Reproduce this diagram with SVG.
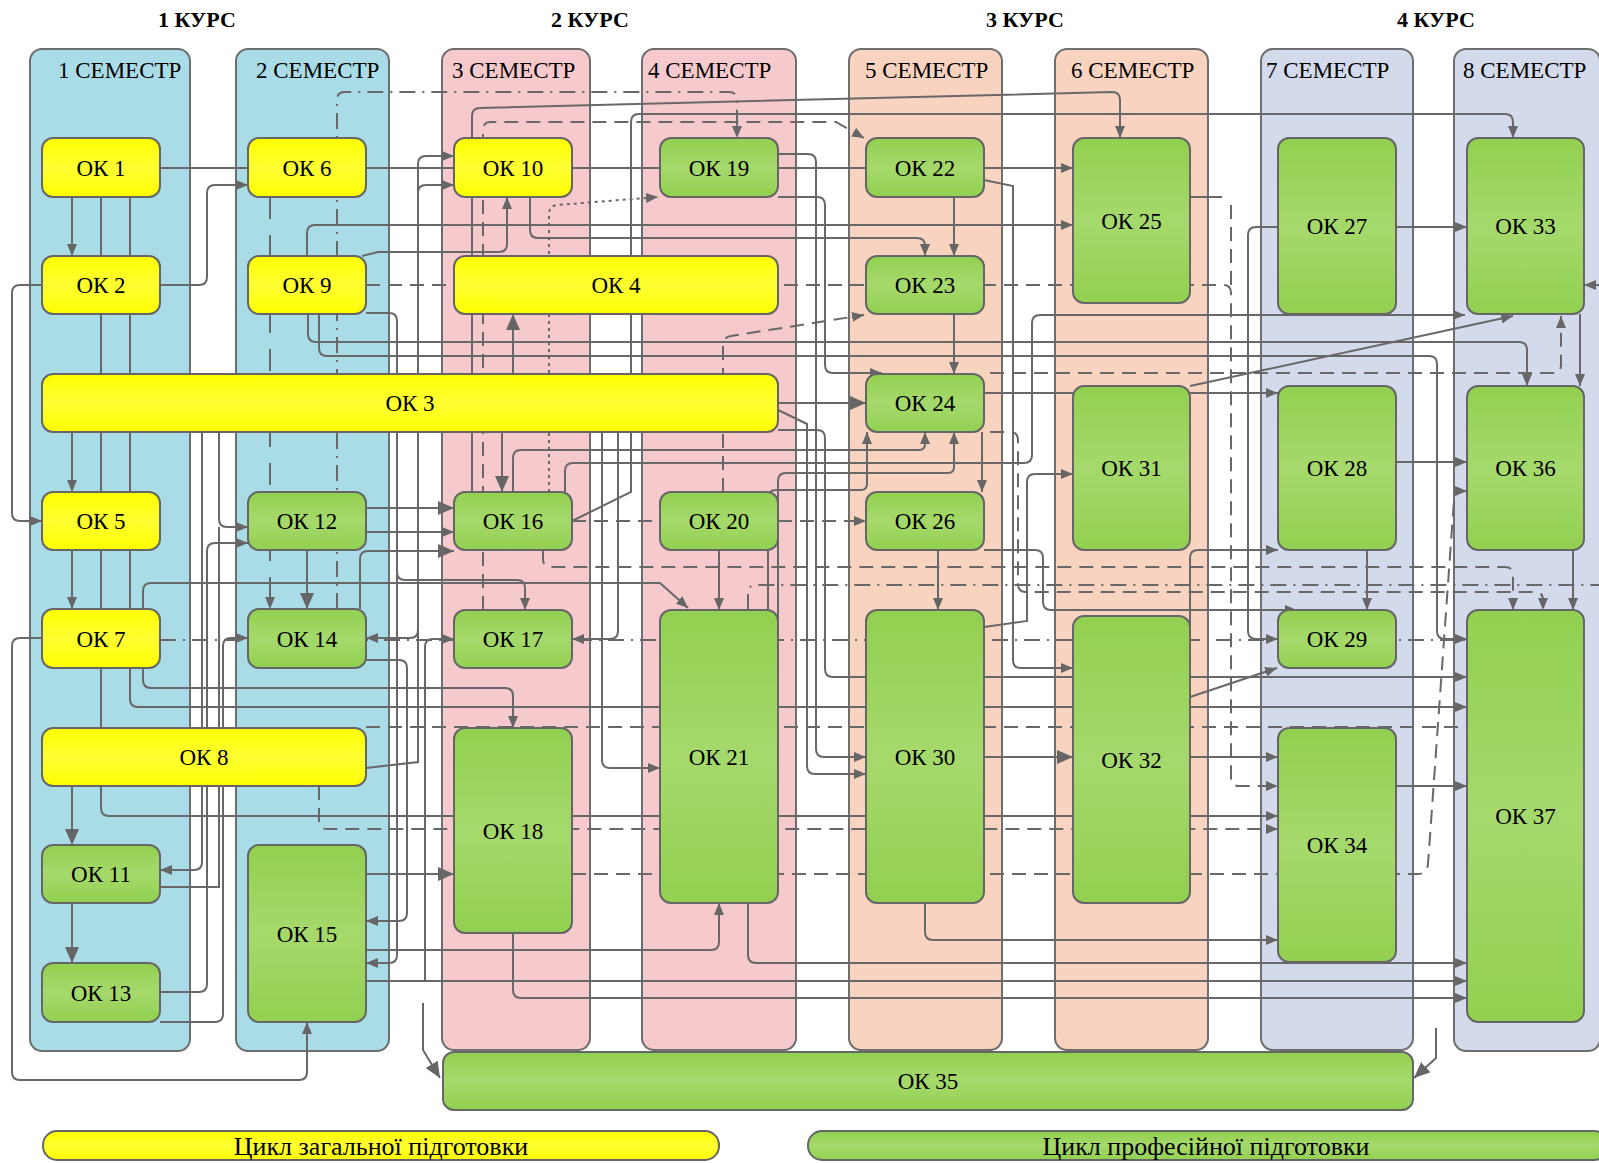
<svg xmlns="http://www.w3.org/2000/svg" width="1599" height="1163" viewBox="0 0 1599 1163">
<defs>
<linearGradient id="gg" x1="0" y1="0" x2="0" y2="1">
<stop offset="0" stop-color="#92D050"/><stop offset="0.5" stop-color="#A6D96C"/><stop offset="1" stop-color="#92D050"/>
</linearGradient>
<linearGradient id="gy" x1="0" y1="0" x2="0" y2="1">
<stop offset="0" stop-color="#FFFF00"/><stop offset="0.5" stop-color="#FFFF33"/><stop offset="1" stop-color="#FFFF00"/>
</linearGradient>
<marker id="a" markerWidth="12" markerHeight="10" refX="12" refY="5" orient="auto" markerUnits="userSpaceOnUse"><path d="M0,0 L12,5 L0,10 z" fill="#666"/></marker>
<marker id="A" markerWidth="16" markerHeight="14" refX="16" refY="7" orient="auto" markerUnits="userSpaceOnUse"><path d="M0,0 L16,7 L0,14 z" fill="#666"/></marker>
<style>
.p{stroke:#6e6e6e;stroke-width:2}
.s1{fill:#AADCE8}.s3{fill:#F6C9CD}.s5{fill:#F8D3C0}.s7{fill:#D3DAEB}
.y{fill:url(#gy);stroke:#666;stroke-width:2}
.g{fill:url(#gg);stroke:#666;stroke-width:2}
text{font-family:"Liberation Serif","DejaVu Serif",serif;fill:#000}
.n{font-size:23px;text-anchor:middle}
.h{font-size:23px}
.k{font-size:22px;font-weight:bold;text-anchor:middle}
.l{font-size:26px;text-anchor:middle}
#connectors path{fill:none;stroke:#686868;stroke-width:2}
#connectors .e{marker-end:url(#a)}
#connectors .E{marker-end:url(#A)}
#connectors .d{stroke-dasharray:14 8}
#connectors .ld{stroke-dasharray:22 16}
#connectors .dd{stroke-dasharray:16 7 2 7}
#connectors .dt{stroke-dasharray:3 4}
</style>
</defs>
<rect width="1599" height="1163" fill="#fff"/>
<g id="headers">
<text class="k" x="197" y="27">1 КУРС</text>
<text class="k" x="590" y="27">2 КУРС</text>
<text class="k" x="1025" y="27">3 КУРС</text>
<text class="k" x="1436" y="27">4 КУРС</text>
</g>
<g id="semesters">
<rect class="p s1" x="30" y="49" width="160" height="1002" rx="12"/>
<rect class="p s1" x="236" y="49" width="153" height="1002" rx="12"/>
<rect class="p s3" x="442" y="49" width="148" height="1001" rx="12"/>
<rect class="p s3" x="642" y="49" width="154" height="1001" rx="12"/>
<rect class="p s5" x="849" y="49" width="153" height="1001" rx="12"/>
<rect class="p s5" x="1055" y="49" width="153" height="1001" rx="12"/>
<rect class="p s7" x="1261" y="49" width="152" height="1001" rx="12"/>
<rect class="p s7" x="1454" y="49" width="146" height="1002" rx="12"/>
<text class="h" x="58" y="78">1 СЕМЕСТР</text>
<text class="h" x="256" y="78">2 СЕМЕСТР</text>
<text class="h" x="452" y="78">3 СЕМЕСТР</text>
<text class="h" x="648" y="78">4 СЕМЕСТР</text>
<text class="h" x="865" y="78">5 СЕМЕСТР</text>
<text class="h" x="1071" y="78">6 СЕМЕСТР</text>
<text class="h" x="1266" y="78">7 СЕМЕСТР</text>
<text class="h" x="1463" y="78">8 СЕМЕСТР</text>
</g>
<g id="connectors">
<path class="e" d="M72,197 V256"/>
<path d="M160,168 H248"/>
<path class="e" d="M160,285 H199 Q207,285 207,277 V193 Q207,185 215,185 H248"/>
<path class="e" d="M42,285 H20 Q12,285 12,293 V513 Q12,521 20,521 H42"/>
<path class="e" d="M101,197 V808 Q101,816 109,816 H1278"/>
<path class="e" d="M130,197 V699 Q130,707 138,707 H1467"/>
<path class="e" d="M72,432 V492"/>
<path class="e" d="M72,550 V609"/>
<path class="E" d="M72,786 V845"/>
<path class="E" d="M72,903 V963"/>
<path class="e" d="M42,638 H20 Q12,638 12,646 V1072 Q12,1080 20,1080 H299 Q307,1080 307,1072 V1022"/>
<path d="M366,168 H454"/>
<path d="M572,168 H660"/>
<path d="M778,168 H866"/>
<path class="e" d="M984,168 H1073"/>
<path class="e" d="M307,256 V233 Q307,225 315,225 H1073"/>
<path class="e" d="M362,256 L378,252 H499 Q507,252 507,244 V197"/>
<path class="e" d="M530,197 V230 Q530,238 538,238 H917 Q925,238 925,246 V256"/>
<path class="e" d="M954,197 V256"/>
<path class="e" d="M954,314 V374"/>
<path class="e" d="M472,492 V116 Q472,108 480,108 L1112,92 Q1120,92 1120,100 V138"/>
<path class="e" d="M572,521 L631,492 V122 Q631,114 639,114 H1505 Q1513,114 1513,122 V138"/>
<path class="e" d="M778,154 H808 Q816,154 816,162 V749 Q816,757 824,757 H866"/>
<path class="e" d="M778,197 H817 Q825,197 825,205 V365 Q825,373 833,373 H882"/>
<path class="E" d="M778,403 H866"/>
<path class="e" d="M778,410 L807,424 V766 Q807,774 815,774 H866"/>
<path class="e" d="M778,430 H817 Q825,430 825,438 V669 Q825,677 833,677 H1467"/>
<path class="E" d="M513,374 V314"/>
<path class="E" d="M502,432 V492"/>
<path class="e" d="M513,492 V458 Q513,450 521,450 H919 Q925,450 925,444 V432"/>
<path class="e" d="M565,492 V471 Q565,463 573,463 H1024 Q1032,463 1032,455 V323 Q1032,315 1040,315 H1465"/>
<path class="e" d="M778,700 V481 Q778,473 786,473 H948 Q954,473 954,467 V432"/>
<path class="e" d="M768,610 V498 Q768,490 776,490 H861 Q867,490 867,484 V432"/>
<path class="e" d="M982,432 V492"/>
<path class="e" d="M938,550 V610"/>
<path class="e" d="M719,550 V610"/>
<path class="e" d="M984,393 H1278"/>
<path class="e" d="M984,180 L1013,186 V660 Q1013,668 1021,668 H1073"/>
<path class="e" d="M984,627 L1027,621 V482 Q1027,474 1035,474 H1073"/>
<path class="e" d="M1190,386 L1513,316"/>
<path class="e" d="M984,550 H1035 Q1043,550 1043,558 V602 Q1043,610 1051,610 H1297"/>
<path class="e" d="M1190,630 V558 Q1190,550 1198,550 H1278"/>
<path class="e" d="M1190,697 L1277,668"/>
<path class="e" d="M1278,227 H1256 Q1248,227 1248,235 V631 Q1248,639 1256,639 H1278"/>
<path class="e" d="M1396,227 H1467"/>
<path class="e" d="M1396,462 H1467"/>
<path class="e" d="M1367,550 V610"/>
<path class="e" d="M1580,314 V386"/>
<path class="e" d="M1573,550 V610"/>
<path class="e" d="M1599,285 H1584"/>
<path class="e" d="M308,314 V334 Q308,342 316,342 H1519 Q1527,342 1527,350 V386"/>
<path class="e" d="M319,314 V348 Q319,356 327,356 H1429 Q1437,356 1437,364 V631 Q1437,639 1445,639 H1467"/>
<path class="e" d="M366,313 H389 Q397,313 397,321 V572 Q397,580 405,580 H517 Q525,580 525,588 V610"/>
<path class="e" d="M143,609 V591 Q143,583 151,583 H660 L688,608"/>
<path class="e" d="M143,668 V680 Q143,688 151,688 H505 Q513,688 513,696 V728"/>
<path class="e" d="M366,768 L418,762 V164 Q418,156 426,156 H454"/>
<path class="e" d="M418,193 Q418,185 426,185 H454"/>
<path class="e" d="M418,630 Q418,638 410,638 H366"/>
<path class="e" d="M366,660 H399 Q407,660 407,668 V913 Q407,921 399,921 H366"/>
<path class="e" d="M397,572 V955 Q397,963 389,963 H366"/>
<path class="E" d="M366,874 H454"/>
<path class="e" d="M366,950 H711 Q719,950 719,942 V903"/>
<path class="e" d="M366,981 H1467"/>
<path class="e" d="M425,981 V647 Q425,639 433,639 H454"/>
<path class="e" d="M513,933 V990 Q513,998 521,998 H1467"/>
<path class="e" d="M748,903 V955 Q748,963 756,963 H1467"/>
<path class="e" d="M925,903 V932 Q925,940 933,940 H1278"/>
<path class="E" d="M984,757 H1073"/>
<path class="e" d="M1190,757 H1278"/>
<path class="e" d="M1396,786 H1467"/>
<path class="e" d="M602,432 V760 Q602,768 610,768 H660"/>
<path class="e" d="M618,432 V631 Q618,639 610,639 H572"/>
<path class="E" d="M366,508 H454"/>
<path class="e" d="M366,532 H454"/>
<path class="E" d="M360,609 V559 Q360,551 368,551 H454"/>
<path class="E" d="M307,550 V609"/>
<path class="e" d="M202,432 V862 Q202,870 194,870 H160"/>
<path class="e" d="M160,992 H199 Q207,992 207,984 V551 Q207,543 215,543 H248"/>
<path class="e" d="M219,432 V519 Q219,527 227,527 H248"/>
<path d="M160,887 H219 V527"/>
<path class="e" d="M160,1022 H215 Q223,1022 223,1014 V646 Q223,638 231,638 H248"/>
<path class="E" d="M423,1003 V1050 L440,1078"/>
<path class="E" d="M1436,1028 V1058 L1414,1078"/>
<path d="M1190,197 H1222"/>
<path class="dd" d="M748,610 V593 Q748,585 756,585 H1599"/>
<path class="d e" d="M990,432 H1010 Q1018,432 1018,440 V584 Q1018,592 1026,592 H1535 Q1543,592 1543,600 V610"/>
<path class="d e" d="M543,550 V559 Q543,567 551,567 H1505 Q1513,567 1513,575 V610"/>
<path class="dd e" d="M160,640 H1495"/>
<path class="d e" d="M366,727 H1483"/>
<path class="d e" d="M319,786 V820 Q319,829 327,829 H1278"/>
<path class="d e" d="M366,285 H1223 Q1231,285 1231,293 V778 Q1231,786 1239,786 H1278"/>
<path class="d" d="M1231,205 V285"/>
<path class="d e" d="M572,874 H1418 Q1427,874 1428,864 L1454,500 Q1455,491 1463,491 H1467"/>
<path class="d e" d="M723,492 V345 Q723,337 731,336 L864,315"/>
<path class="d e" d="M483,610 V130 Q483,122 491,122 H836 L864,138"/>
<path class="d" d="M572,521 H660"/>
<path class="d e" d="M778,521 H866"/>
<path class="dd e" d="M337,609 V100 Q337,92 345,92 H729 Q737,92 737,100 V138"/>
<path class="dt e" d="M549,492 V214 Q549,206 557,205 L658,197"/>
<path class="d e" d="M990,373 H1553 Q1561,373 1561,365 V316"/>
<path class="ld e" d="M270,197 V609"/>
</g>
<g id="ok1"><rect class="y" x="42" y="138" width="118" height="59" rx="11"/><text class="n" x="101" y="176">ОК 1</text></g>
<g id="ok2"><rect class="y" x="42" y="256" width="118" height="58" rx="11"/><text class="n" x="101" y="293">ОК 2</text></g>
<g id="ok3"><rect class="y" x="42" y="374" width="736" height="58" rx="11"/><text class="n" x="410" y="411">ОК 3</text></g>
<g id="ok4"><rect class="y" x="454" y="256" width="324" height="58" rx="11"/><text class="n" x="616" y="293">ОК 4</text></g>
<g id="ok5"><rect class="y" x="42" y="492" width="118" height="58" rx="11"/><text class="n" x="101" y="529">ОК 5</text></g>
<g id="ok6"><rect class="y" x="248" y="138" width="118" height="59" rx="11"/><text class="n" x="307" y="176">ОК 6</text></g>
<g id="ok7"><rect class="y" x="42" y="609" width="118" height="59" rx="11"/><text class="n" x="101" y="647">ОК 7</text></g>
<g id="ok8"><rect class="y" x="42" y="728" width="324" height="58" rx="11"/><text class="n" x="204" y="765">ОК 8</text></g>
<g id="ok9"><rect class="y" x="248" y="256" width="118" height="58" rx="11"/><text class="n" x="307" y="293">ОК 9</text></g>
<g id="ok10"><rect class="y" x="454" y="138" width="118" height="59" rx="11"/><text class="n" x="513" y="176">ОК 10</text></g>
<g id="ok11"><rect class="g" x="42" y="845" width="118" height="58" rx="11"/><text class="n" x="101" y="882">ОК 11</text></g>
<g id="ok12"><rect class="g" x="248" y="492" width="118" height="58" rx="11"/><text class="n" x="307" y="529">ОК 12</text></g>
<g id="ok13"><rect class="g" x="42" y="963" width="118" height="59" rx="11"/><text class="n" x="101" y="1001">ОК 13</text></g>
<g id="ok14"><rect class="g" x="248" y="609" width="118" height="59" rx="11"/><text class="n" x="307" y="647">ОК 14</text></g>
<g id="ok15"><rect class="g" x="248" y="845" width="118" height="177" rx="11"/><text class="n" x="307" y="942">ОК 15</text></g>
<g id="ok16"><rect class="g" x="454" y="492" width="118" height="58" rx="11"/><text class="n" x="513" y="529">ОК 16</text></g>
<g id="ok17"><rect class="g" x="454" y="610" width="118" height="58" rx="11"/><text class="n" x="513" y="647">ОК 17</text></g>
<g id="ok18"><rect class="g" x="454" y="728" width="118" height="205" rx="11"/><text class="n" x="513" y="839">ОК 18</text></g>
<g id="ok19"><rect class="g" x="660" y="138" width="118" height="59" rx="11"/><text class="n" x="719" y="176">ОК 19</text></g>
<g id="ok20"><rect class="g" x="660" y="492" width="118" height="58" rx="11"/><text class="n" x="719" y="529">ОК 20</text></g>
<g id="ok21"><rect class="g" x="660" y="610" width="118" height="293" rx="11"/><text class="n" x="719" y="765">ОК 21</text></g>
<g id="ok22"><rect class="g" x="866" y="138" width="118" height="59" rx="11"/><text class="n" x="925" y="176">ОК 22</text></g>
<g id="ok23"><rect class="g" x="866" y="256" width="118" height="58" rx="11"/><text class="n" x="925" y="293">ОК 23</text></g>
<g id="ok24"><rect class="g" x="866" y="374" width="118" height="58" rx="11"/><text class="n" x="925" y="411">ОК 24</text></g>
<g id="ok25"><rect class="g" x="1073" y="138" width="117" height="165" rx="11"/><text class="n" x="1131.5" y="229">ОК 25</text></g>
<g id="ok26"><rect class="g" x="866" y="492" width="118" height="58" rx="11"/><text class="n" x="925" y="529">ОК 26</text></g>
<g id="ok27"><rect class="g" x="1278" y="138" width="118" height="176" rx="11"/><text class="n" x="1337" y="234">ОК 27</text></g>
<g id="ok28"><rect class="g" x="1278" y="386" width="118" height="164" rx="11"/><text class="n" x="1337" y="476">ОК 28</text></g>
<g id="ok29"><rect class="g" x="1278" y="610" width="118" height="58" rx="11"/><text class="n" x="1337" y="647">ОК 29</text></g>
<g id="ok30"><rect class="g" x="866" y="610" width="118" height="293" rx="11"/><text class="n" x="925" y="765">ОК 30</text></g>
<g id="ok31"><rect class="g" x="1073" y="386" width="117" height="164" rx="11"/><text class="n" x="1131.5" y="476">ОК 31</text></g>
<g id="ok32"><rect class="g" x="1073" y="616" width="117" height="287" rx="11"/><text class="n" x="1131.5" y="768">ОК 32</text></g>
<g id="ok33"><rect class="g" x="1467" y="138" width="117" height="176" rx="11"/><text class="n" x="1525.5" y="234">ОК 33</text></g>
<g id="ok34"><rect class="g" x="1278" y="728" width="118" height="234" rx="11"/><text class="n" x="1337" y="853">ОК 34</text></g>
<g id="ok35"><rect class="g" x="443" y="1052" width="970" height="58" rx="11"/><text class="n" x="928" y="1089">ОК 35</text></g>
<g id="ok36"><rect class="g" x="1467" y="386" width="117" height="164" rx="11"/><text class="n" x="1525.5" y="476">ОК 36</text></g>
<g id="ok37"><rect class="g" x="1467" y="610" width="117" height="412" rx="11"/><text class="n" x="1525.5" y="824">ОК 37</text></g>
<g id="legend">
<rect class="y" x="43" y="1131" width="676" height="29" rx="14"/>
<text class="l" x="381" y="1155">Цикл загальної підготовки</text>
<rect class="g" x="808" y="1131" width="800" height="29" rx="14"/>
<text class="l" x="1206" y="1155">Цикл професійної підготовки</text>
</g>
</svg>
